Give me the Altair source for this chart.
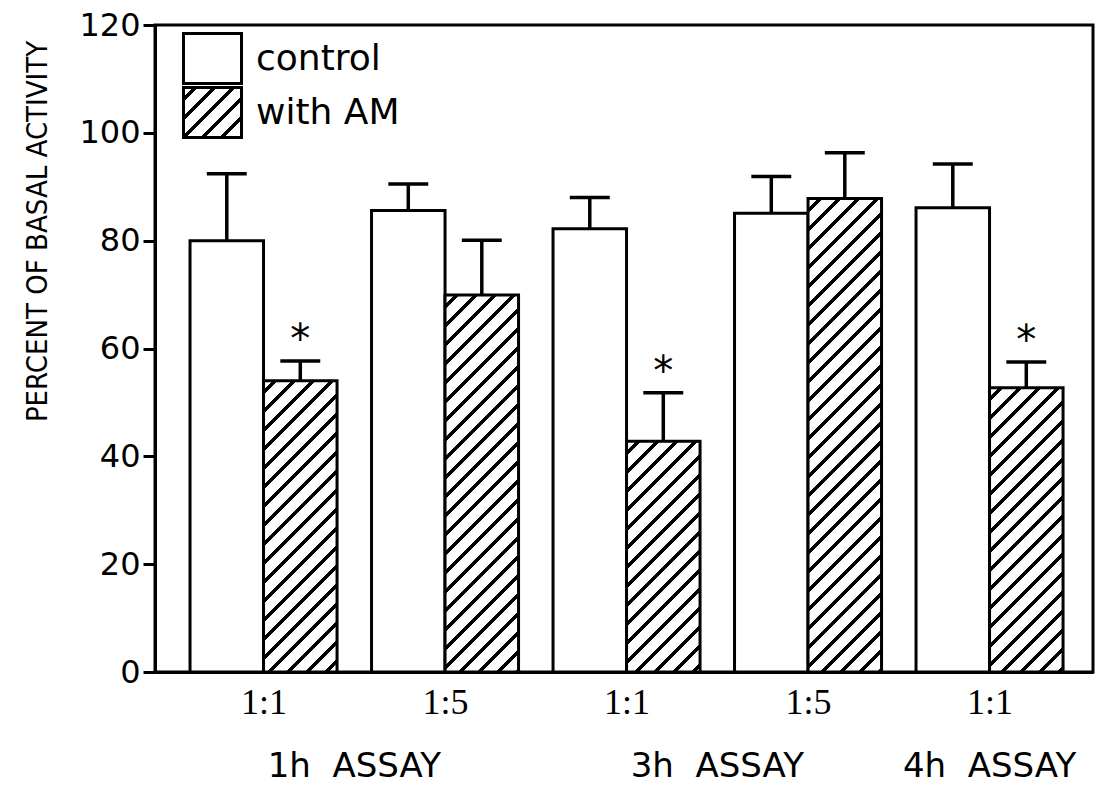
import altair as alt
import pandas as pd

# ---------------- data ----------------
ratios = ["1:1", "1:5", "1:1", "1:5", "1:1"]
control_mean = [80.0, 85.6, 82.2, 85.1, 86.1]
control_err = [12.4, 4.9, 5.8, 6.8, 8.1]
am_mean = [54.0, 69.9, 42.8, 87.8, 52.7]
am_err = [3.7, 10.2, 9.0, 8.5, 4.8]
am_sig = [True, False, True, False, True]
assay_labels = ["1h \u00a0ASSAY", "3h \u00a0ASSAY", "4h \u00a0ASSAY"]
assay_pos = [0.5, 2.5, 4.0]
series = ["control", "with AM"]

# ---------------- layout / style ----------------
W_PLOT, H_PLOT = 938, 647
X_DOM = [-0.598, 4.57]
Y_DOM = [0, 120]
HALF = 0.405   # bar width in x units
CAP = 0.11     # half cap width in x units
PX_X = W_PLOT / (X_DOM[1] - X_DOM[0])
PX_Y = H_PLOT / (Y_DOM[1] - Y_DOM[0])
FONT = "DejaVu Sans"
NARROW = "Liberation Sans Narrow, DejaVu Sans Condensed, sans-serif"


def hatch_expr(w, h, period=19.0, thick=5.0):
    """Diagonal '/' hatch as a hard-stop linear gradient (bbox units)."""
    L = w + h
    stops = [("white", 0.0)]
    pos = period * 0.5
    while pos < L:
        s = pos / L
        e = min((pos + thick) / L, 1.0)
        stops += [("white", s), ("black", s), ("black", e), ("white", e)]
        pos += period
    stops.append(("white", 1.0))
    a = w * L / (w * w + h * h)
    b = h * L / (w * w + h * h)
    st = ",".join("{offset:%.5f,color:'%s'}" % (o, c) for c, o in stops)
    return ("{gradient:'linear',x1:0,y1:0,x2:%.5f,y2:%.5f,stops:[%s]}"
            % (a, b, st))


idx = list(range(len(ratios)))
ctrl = pd.DataFrame({"i": idx, "mean": control_mean, "err": control_err,
                     "grp": series[0]})
ctrl["x0"] = ctrl["i"] - HALF
ctrl["x1"] = ctrl["i"]
ctrl["xc"] = ctrl["i"] - HALF / 2
am = pd.DataFrame({"i": idx, "mean": am_mean, "err": am_err, "sig": am_sig,
                   "grp": series[1]})
am["x0"] = am["i"]
am["x1"] = am["i"] + HALF
am["xc"] = am["i"] + HALF / 2

errs = pd.concat([ctrl[["xc", "mean", "err"]], am[["xc", "mean", "err"]]])
errs["top"] = errs["mean"] + errs["err"]
errs["c0"] = errs["xc"] - CAP
errs["c1"] = errs["xc"] + CAP

stars = am[am["sig"]].copy()
stars["top"] = stars["mean"] + stars["err"]

xscale = alt.Scale(domain=X_DOM, nice=False, zero=False)
yscale = alt.Scale(domain=Y_DOM, nice=False, zero=False)

label_expr = "[" + ",".join("'%s'" % r for r in ratios) + "][datum.value]"
xaxis = alt.Axis(values=idx, labelExpr=label_expr, ticks=False, tickSize=0,
                 grid=False, title=None, labelFont="Liberation Serif",
                 labelFontSize=36, labelColor="black", labelPadding=13,
                 labelOverlap=False, labelFlush=False, domainColor="black",
                 domainWidth=3)
yaxis = alt.Axis(values=[0, 20, 40, 60, 80, 100, 120], grid=False,
                 tickSize=12, tickWidth=3, tickColor="black",
                 domainColor="black", domainWidth=3,
                 labelFont=FONT, labelFontSize=32, labelColor="black",
                 labelPadding=3,
                 title="PERCENT OF BASAL ACTIVITY", titleFont=NARROW,
                 titleFontSize=29, titleFontWeight="normal",
                 titleColor="black", titleX=-118, titleY=206,
                 titleAngle=270, titleAlign="center", titleBaseline="middle")

LEG_SYM = dict(
    title=None, orient="none", padding=0,
    symbolType="M-1,-0.862H1V0.862H-1Z", symbolSize=3364,
    symbolStrokeColor="black", symbolStrokeWidth=3, symbolOpacity=1,
    labelFont=FONT, labelFontSize=36, labelColor="black", labelOffset=13,
    labelLimit=400,
)
legend_ctrl = alt.Legend(legendX=27, legendY=3, **LEG_SYM)
legend_am = alt.Legend(legendX=27, legendY=57,
                       symbolFillColor={"expr": hatch_expr(58, 50)},
                       **LEG_SYM)

ctrl_bars = alt.Chart(ctrl).mark_bar(stroke="black", strokeWidth=3,
                                     fillOpacity=1).encode(
    x=alt.X("x0:Q", scale=xscale, axis=xaxis),
    x2="x1:Q",
    y=alt.Y("mean:Q", scale=yscale, axis=yaxis),
    y2=alt.datum(0),
    fill=alt.Fill("grp:N", scale=alt.Scale(domain=series[:1],
                                           range=["white"]),
                  legend=legend_ctrl),
)

# one hatch gradient per hatched bar, sized to that bar's pixel box
hatch_range = [{"expr": hatch_expr(HALF * PX_X, m * PX_Y)} for m in am_mean]
am_bars = alt.Chart(am).mark_bar(strokeWidth=3, fillOpacity=1).encode(
    x=alt.X("x0:Q", scale=xscale), x2="x1:Q",
    y=alt.Y("mean:Q", scale=yscale), y2=alt.datum(0),
    fill=alt.Fill("i:N", scale=alt.Scale(domain=idx, range=hatch_range),
                  legend=None),
    stroke=alt.Stroke("grp:N", scale=alt.Scale(domain=series[1:],
                                               range=["black"]),
                      legend=legend_am),
)

stems = alt.Chart(errs).mark_rule(color="black", strokeWidth=3.5).encode(
    x=alt.X("xc:Q", scale=xscale), y=alt.Y("mean:Q", scale=yscale),
    y2="top:Q")
caps = alt.Chart(errs).mark_rule(color="black", strokeWidth=3.5).encode(
    x=alt.X("c0:Q", scale=xscale), x2="c1:Q",
    y=alt.Y("top:Q", scale=yscale))

star_text = alt.Chart(stars).mark_text(text="*", font=FONT, fontSize=40,
                                       baseline="alphabetic", dy=-8,
                                       color="black").encode(
    x=alt.X("xc:Q", scale=xscale), y=alt.Y("top:Q", scale=yscale))

assay_df = pd.DataFrame({"label": assay_labels, "pos": assay_pos})
assay_text = alt.Chart(assay_df).mark_text(font=FONT, fontSize=34,
                                           baseline="alphabetic",
                                           align="center",
                                           color="black").encode(
    x=alt.X("pos:Q", scale=xscale), y=alt.value(752), text="label:N")

chart = alt.layer(ctrl_bars, am_bars, stems, caps, star_text,
                  assay_text).properties(
    width=W_PLOT, height=H_PLOT,
    padding={"left": 155, "top": 25, "right": 13, "bottom": 115},
    autosize=alt.AutoSizeParams(type="none"),
    background="white",
).resolve_scale(fill="independent").configure_view(
    stroke="black", strokeWidth=3)

chart.save("out.html", embed_options={"renderer": "svg", "actions": False})
